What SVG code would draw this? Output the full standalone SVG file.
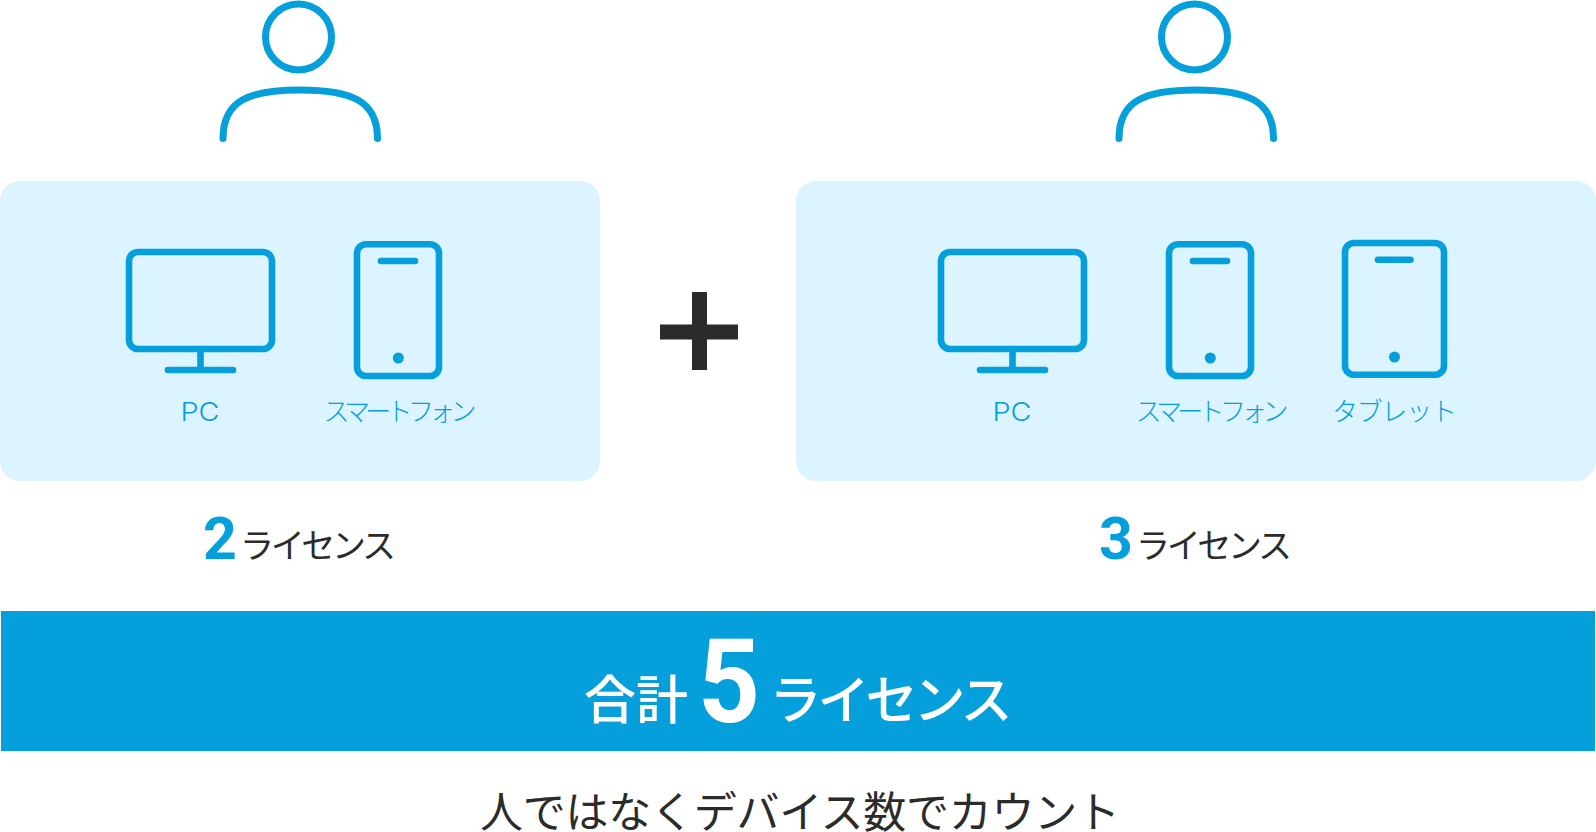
<svg xmlns="http://www.w3.org/2000/svg" width="1596" height="832" viewBox="0 0 1596 832">
<style>
.l{fill:none;stroke:#05a0dc;stroke-width:6.6;stroke-linecap:round;stroke-linejoin:round}
.f{fill:#05a0dc}
.p{fill:#dbf4ff}
text{font-family:"Noto Sans CJK JP","Noto Sans",sans-serif}
.d{font-size:26px;font-weight:300;fill:#05a0dc}
.c{font-family:Inter,"Liberation Sans",sans-serif;font-size:25px;font-weight:300;fill:#05a0dc}
.n{font-family:Roboto,"Liberation Sans",sans-serif;font-weight:700}
.k{font-size:34px;font-weight:400;fill:#2b2b2b}
.w{fill:#fff;font-weight:500}
</style>
<defs>
<g id="person"><circle class="l" style="stroke-width:7" cx="298.5" cy="37" r="33"/><path class="l" style="stroke-width:7" d="M223 138.500C223 100 250 90 300 90C350 90 377.500 100 377.500 138.500"/></g>
<g id="monitor"><rect class="l" x="129" y="252" width="143" height="97" rx="9"/><path class="l" d="M200.500 349V370M168 370H233"/></g>
<g id="phone"><rect class="l" x="357" y="244.300" width="82" height="131.700" rx="9"/><path class="l" d="M381 261H415"/><circle class="f" cx="398.300" cy="358" r="5.500"/></g>
</defs>
<g id="person-left"><use href="#person"/></g>
<g id="person-right"><use href="#person" x="896"/></g>
<g id="panel-left">
<rect class="p" y="181" width="600" height="300" rx="20"/>
<use href="#monitor"/><use href="#phone"/>
<text class="c" x="180.500" y="420.500" textLength="39" lengthAdjust="spacingAndGlyphs">PC</text>
<text class="d" x="323.500" y="420.500" textLength="153">スマートフォン</text>
</g>
<g id="panel-right">
<rect class="p" x="796" y="181" width="800" height="300" rx="20"/>
<use href="#monitor" x="812"/><use href="#phone" x="812"/>
<text class="c" x="992.500" y="420.500" textLength="39" lengthAdjust="spacingAndGlyphs">PC</text>
<text class="d" x="1135.500" y="420.500" textLength="153">スマートフォン</text>
<g id="tablet"><rect class="l" x="1345" y="243" width="99" height="131.700" rx="9"/><path class="l" d="M1378 259.700H1410.500"/><circle class="f" cx="1394.500" cy="357" r="5.500"/></g>
<text class="d" x="1332" y="420.500" textLength="125">タブレット</text>
</g>
<path id="plus" fill="#2b2b2b" d="M692 292H707V324.500H738V339.500H707V370H692V339.500H660V324.500H692Z"/>
<g id="count-left">
<text class="n f" x="203" y="559" font-size="59">2</text>
<text class="k" x="240" y="557.500" textLength="156">ライセンス</text>
</g>
<g id="count-right">
<text class="n f" x="1099" y="559" font-size="59">3</text>
<text class="k" x="1136" y="557.500" textLength="156">ライセンス</text>
</g>
<g id="total">
<rect class="f" x="1" y="611" width="1594" height="140"/>
<text class="w" x="584" y="719" font-size="52" textLength="104">合計</text>
<text class="n" x="698" y="722" font-size="116" fill="#fff" textLength="62" lengthAdjust="spacingAndGlyphs">5</text>
<text class="w" x="769.500" y="719" font-size="52" textLength="243">ライセンス</text>
</g>
<text id="note" x="480" y="828" font-size="43" font-weight="400" fill="#2b2b2b" textLength="640">人ではなくデバイス数でカウント</text>
</svg>
